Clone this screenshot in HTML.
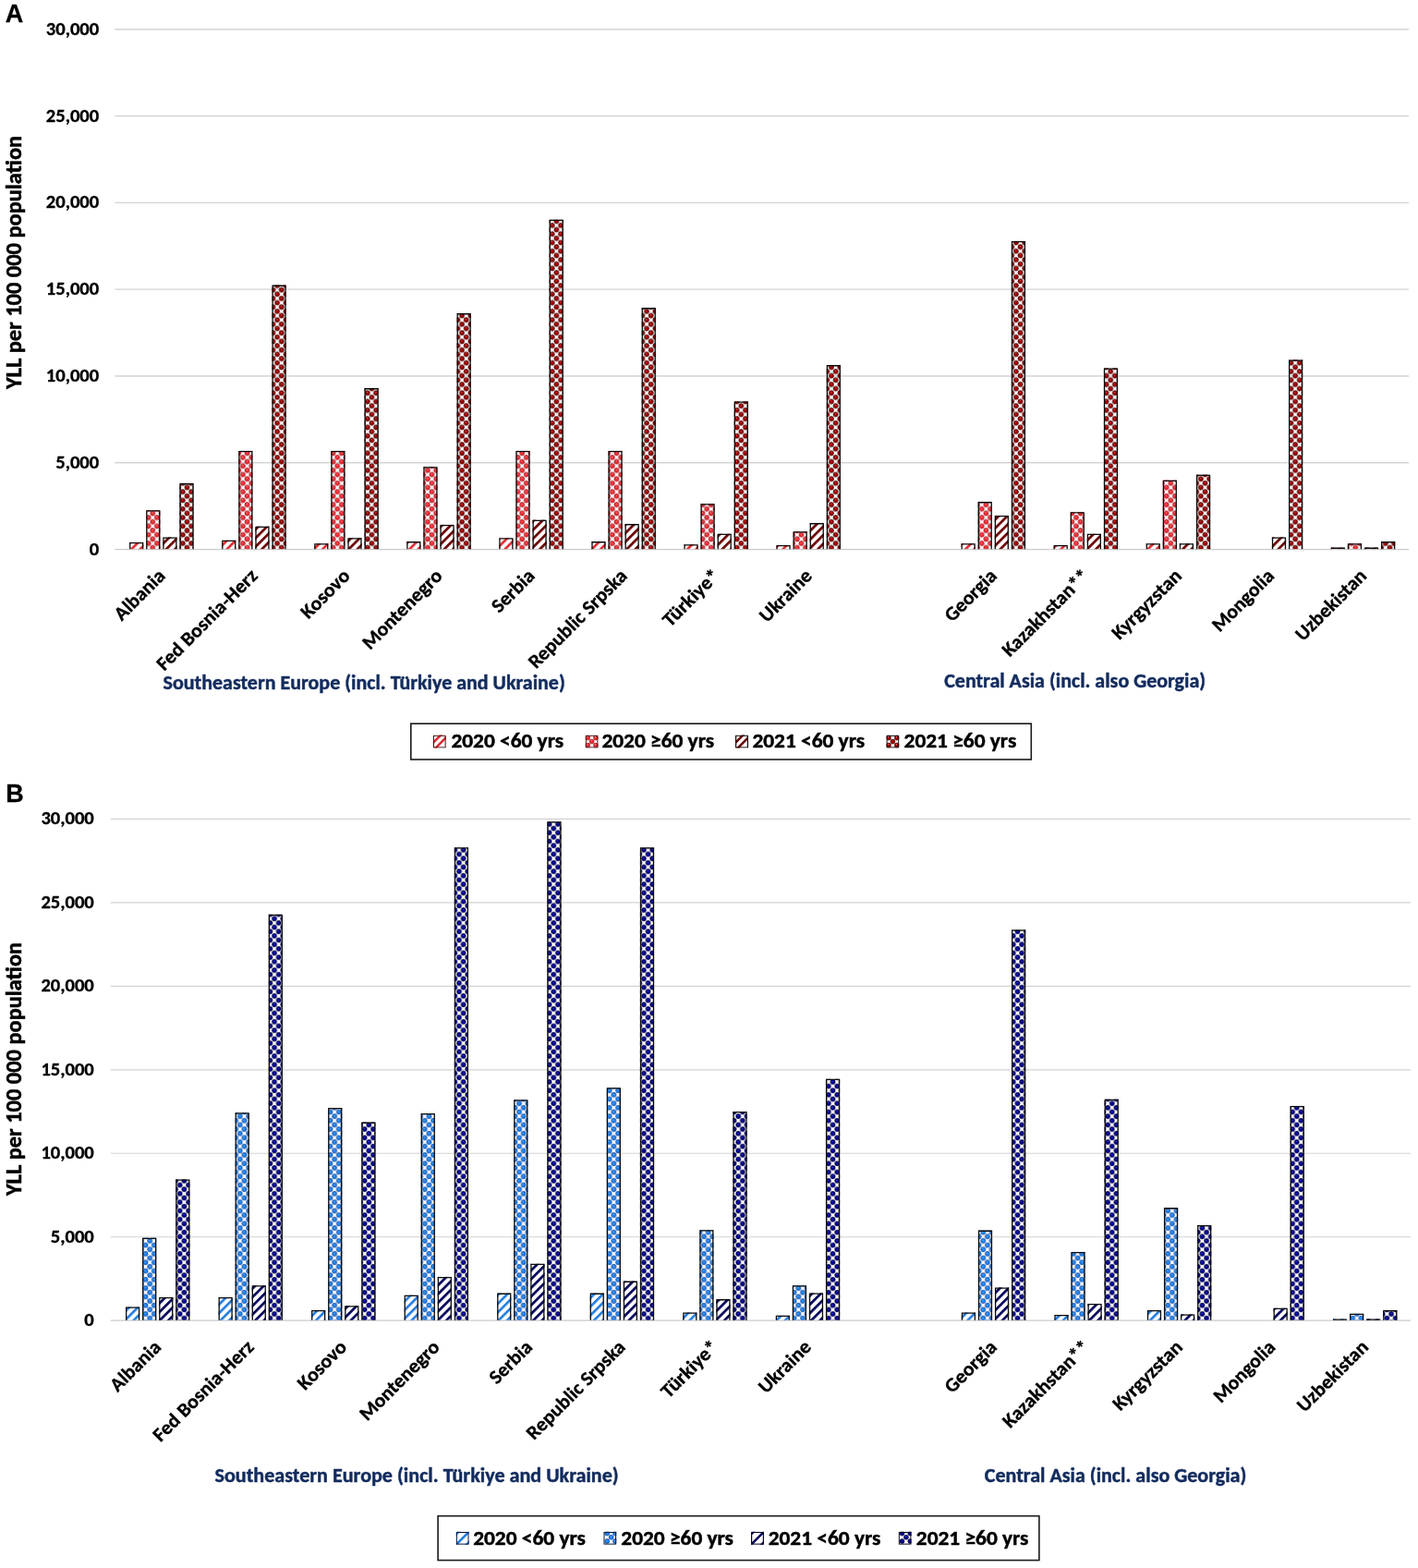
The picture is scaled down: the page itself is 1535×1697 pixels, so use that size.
<!DOCTYPE html><html><head><meta charset="utf-8"><title>YLL per 100 000 population</title><style>html,body{margin:0;padding:0;background:#fff}svg{display:block}text{font-family:Carlito, Calibri, 'Liberation Sans', sans-serif;font-weight:bold}.lt{font-family:"Liberation Sans",Arial,Helvetica,sans-serif;font-weight:bold}</style></head><body>
<svg width="1535" height="1697" viewBox="0 0 1535 1697">
<rect width="100%" height="100%" fill="#fff"/>
<defs>
<radialGradient id="gA1" cx="0.5" cy="0.55" r="0.55" fx="0.42" fy="0.28"><stop offset="0" stop-color="#ffc8c8"/><stop offset="0.28" stop-color="#ee2d35"/><stop offset="0.8" stop-color="#ee2d35"/><stop offset="1" stop-color="#b0101a"/></radialGradient>
<radialGradient id="gA3" cx="0.5" cy="0.55" r="0.55" fx="0.42" fy="0.28"><stop offset="0" stop-color="#ff9a9a"/><stop offset="0.28" stop-color="#9e0000"/><stop offset="0.8" stop-color="#9e0000"/><stop offset="1" stop-color="#4a0000"/></radialGradient>
<radialGradient id="gB1" cx="0.5" cy="0.55" r="0.55" fx="0.42" fy="0.28"><stop offset="0" stop-color="#c8e4ff"/><stop offset="0.28" stop-color="#1f80e8"/><stop offset="0.8" stop-color="#1f80e8"/><stop offset="1" stop-color="#0b4fb0"/></radialGradient>
<radialGradient id="gB3" cx="0.5" cy="0.55" r="0.55" fx="0.42" fy="0.28"><stop offset="0" stop-color="#9a9aff"/><stop offset="0.28" stop-color="#00008e"/><stop offset="0.8" stop-color="#00008e"/><stop offset="1" stop-color="#000040"/></radialGradient>
<pattern id="sA0" patternUnits="userSpaceOnUse" width="6.65" height="20" patternTransform="rotate(45) translate(0.9 0)"><rect x="0" y="0" width="2.6" height="20" fill="#e3262c"/></pattern>
<pattern id="sA1" patternUnits="userSpaceOnUse" width="9.3" height="9.3"><circle cx="2.50" cy="2.20" r="2.6" fill="url(#gA1)" stroke="#8a1018" stroke-width="0.55"/><circle cx="2.50" cy="11.50" r="2.6" fill="url(#gA1)" stroke="#8a1018" stroke-width="0.55"/><circle cx="11.80" cy="2.20" r="2.6" fill="url(#gA1)" stroke="#8a1018" stroke-width="0.55"/><circle cx="11.80" cy="11.50" r="2.6" fill="url(#gA1)" stroke="#8a1018" stroke-width="0.55"/><circle cx="-2.15" cy="-2.45" r="2.6" fill="url(#gA1)" stroke="#8a1018" stroke-width="0.55"/><circle cx="-2.15" cy="6.85" r="2.6" fill="url(#gA1)" stroke="#8a1018" stroke-width="0.55"/><circle cx="7.15" cy="-2.45" r="2.6" fill="url(#gA1)" stroke="#8a1018" stroke-width="0.55"/><circle cx="7.15" cy="6.85" r="2.6" fill="url(#gA1)" stroke="#8a1018" stroke-width="0.55"/></pattern>
<pattern id="sA2" patternUnits="userSpaceOnUse" width="6.65" height="20" patternTransform="rotate(45) translate(0.9 0)"><rect x="0" y="0" width="2.7" height="20" fill="#6a0000"/></pattern>
<pattern id="sA3" patternUnits="userSpaceOnUse" width="9.3" height="9.3"><circle cx="2.50" cy="2.20" r="2.6" fill="url(#gA3)" stroke="#2a0000" stroke-width="0.55"/><circle cx="2.50" cy="11.50" r="2.6" fill="url(#gA3)" stroke="#2a0000" stroke-width="0.55"/><circle cx="11.80" cy="2.20" r="2.6" fill="url(#gA3)" stroke="#2a0000" stroke-width="0.55"/><circle cx="11.80" cy="11.50" r="2.6" fill="url(#gA3)" stroke="#2a0000" stroke-width="0.55"/><circle cx="-2.15" cy="-2.45" r="2.6" fill="url(#gA3)" stroke="#2a0000" stroke-width="0.55"/><circle cx="-2.15" cy="6.85" r="2.6" fill="url(#gA3)" stroke="#2a0000" stroke-width="0.55"/><circle cx="7.15" cy="-2.45" r="2.6" fill="url(#gA3)" stroke="#2a0000" stroke-width="0.55"/><circle cx="7.15" cy="6.85" r="2.6" fill="url(#gA3)" stroke="#2a0000" stroke-width="0.55"/></pattern>
<pattern id="sB0" patternUnits="userSpaceOnUse" width="6.65" height="20" patternTransform="rotate(45) translate(0.9 0)"><rect x="0" y="0" width="2.6" height="20" fill="#1f7be0"/></pattern>
<pattern id="sB1" patternUnits="userSpaceOnUse" width="9.3" height="9.3"><circle cx="4.10" cy="3.80" r="2.6" fill="url(#gB1)" stroke="#0a3c90" stroke-width="0.55"/><circle cx="-0.55" cy="-0.85" r="2.6" fill="url(#gB1)" stroke="#0a3c90" stroke-width="0.55"/><circle cx="-0.55" cy="8.45" r="2.6" fill="url(#gB1)" stroke="#0a3c90" stroke-width="0.55"/><circle cx="8.75" cy="-0.85" r="2.6" fill="url(#gB1)" stroke="#0a3c90" stroke-width="0.55"/><circle cx="8.75" cy="8.45" r="2.6" fill="url(#gB1)" stroke="#0a3c90" stroke-width="0.55"/></pattern>
<pattern id="sB2" patternUnits="userSpaceOnUse" width="6.65" height="20" patternTransform="rotate(45) translate(0.9 0)"><rect x="0" y="0" width="2.7" height="20" fill="#00005a"/></pattern>
<pattern id="sB3" patternUnits="userSpaceOnUse" width="9.3" height="9.3"><circle cx="4.10" cy="3.80" r="2.6" fill="url(#gB3)" stroke="#000028" stroke-width="0.55"/><circle cx="-0.55" cy="-0.85" r="2.6" fill="url(#gB3)" stroke="#000028" stroke-width="0.55"/><circle cx="-0.55" cy="8.45" r="2.6" fill="url(#gB3)" stroke="#000028" stroke-width="0.55"/><circle cx="8.75" cy="-0.85" r="2.6" fill="url(#gB3)" stroke="#000028" stroke-width="0.55"/><circle cx="8.75" cy="8.45" r="2.6" fill="url(#gB3)" stroke="#000028" stroke-width="0.55"/></pattern>
</defs>
<line x1="124.4" y1="594.60" x2="1525.1" y2="594.60" stroke="#cbcbcb" stroke-width="1.4"/>
<line x1="124.4" y1="500.78" x2="1525.1" y2="500.78" stroke="#d3d3d3" stroke-width="1.4"/>
<line x1="124.4" y1="406.97" x2="1525.1" y2="406.97" stroke="#d3d3d3" stroke-width="1.4"/>
<line x1="124.4" y1="313.15" x2="1525.1" y2="313.15" stroke="#d3d3d3" stroke-width="1.4"/>
<line x1="124.4" y1="219.33" x2="1525.1" y2="219.33" stroke="#d3d3d3" stroke-width="1.4"/>
<line x1="124.4" y1="125.52" x2="1525.1" y2="125.52" stroke="#d3d3d3" stroke-width="1.4"/>
<line x1="124.4" y1="31.70" x2="1525.1" y2="31.70" stroke="#d3d3d3" stroke-width="1.4"/>
<rect x="140.10" y="586.90" width="15.20" height="7.25" fill="url(#sA0)"/>
<path d="M140.75 594.15V587.55H154.65V594.15" fill="none" stroke="#0a0a0a" stroke-width="1.3"/>
<rect x="158.20" y="552.20" width="15.20" height="41.95" fill="url(#sA1)"/>
<path d="M158.85 594.15V552.85H172.75V594.15" fill="none" stroke="#0a0a0a" stroke-width="1.3"/>
<rect x="176.30" y="581.40" width="15.20" height="12.75" fill="url(#sA2)"/>
<path d="M176.95 594.15V582.05H190.85V594.15" fill="none" stroke="#0a0a0a" stroke-width="1.3"/>
<rect x="194.40" y="523.10" width="15.20" height="71.05" fill="url(#sA3)"/>
<path d="M195.05 594.15V523.75H208.95V594.15" fill="none" stroke="#0a0a0a" stroke-width="1.3"/>
<rect x="240.15" y="584.80" width="15.20" height="9.35" fill="url(#sA0)"/>
<path d="M240.80 594.15V585.45H254.70V594.15" fill="none" stroke="#0a0a0a" stroke-width="1.3"/>
<rect x="258.25" y="487.90" width="15.20" height="106.25" fill="url(#sA1)"/>
<path d="M258.90 594.15V488.55H272.80V594.15" fill="none" stroke="#0a0a0a" stroke-width="1.3"/>
<rect x="276.35" y="569.70" width="15.20" height="24.45" fill="url(#sA2)"/>
<path d="M277.00 594.15V570.35H290.90V594.15" fill="none" stroke="#0a0a0a" stroke-width="1.3"/>
<rect x="294.45" y="308.60" width="15.20" height="285.55" fill="url(#sA3)"/>
<path d="M295.10 594.15V309.25H309.00V594.15" fill="none" stroke="#0a0a0a" stroke-width="1.3"/>
<rect x="340.20" y="588.20" width="15.20" height="5.95" fill="url(#sA0)"/>
<path d="M340.85 594.15V588.85H354.75V594.15" fill="none" stroke="#0a0a0a" stroke-width="1.3"/>
<rect x="358.30" y="487.90" width="15.20" height="106.25" fill="url(#sA1)"/>
<path d="M358.95 594.15V488.55H372.85V594.15" fill="none" stroke="#0a0a0a" stroke-width="1.3"/>
<rect x="376.40" y="582.20" width="15.20" height="11.95" fill="url(#sA2)"/>
<path d="M377.05 594.15V582.85H390.95V594.15" fill="none" stroke="#0a0a0a" stroke-width="1.3"/>
<rect x="394.50" y="420.10" width="15.20" height="174.05" fill="url(#sA3)"/>
<path d="M395.15 594.15V420.75H409.05V594.15" fill="none" stroke="#0a0a0a" stroke-width="1.3"/>
<rect x="440.25" y="586.10" width="15.20" height="8.05" fill="url(#sA0)"/>
<path d="M440.90 594.15V586.75H454.80V594.15" fill="none" stroke="#0a0a0a" stroke-width="1.3"/>
<rect x="458.35" y="505.30" width="15.20" height="88.85" fill="url(#sA1)"/>
<path d="M459.00 594.15V505.95H472.90V594.15" fill="none" stroke="#0a0a0a" stroke-width="1.3"/>
<rect x="476.45" y="567.90" width="15.20" height="26.25" fill="url(#sA2)"/>
<path d="M477.10 594.15V568.55H491.00V594.15" fill="none" stroke="#0a0a0a" stroke-width="1.3"/>
<rect x="494.55" y="339.10" width="15.20" height="255.05" fill="url(#sA3)"/>
<path d="M495.20 594.15V339.75H509.10V594.15" fill="none" stroke="#0a0a0a" stroke-width="1.3"/>
<rect x="540.30" y="582.20" width="15.20" height="11.95" fill="url(#sA0)"/>
<path d="M540.95 594.15V582.85H554.85V594.15" fill="none" stroke="#0a0a0a" stroke-width="1.3"/>
<rect x="558.40" y="487.90" width="15.20" height="106.25" fill="url(#sA1)"/>
<path d="M559.05 594.15V488.55H572.95V594.15" fill="none" stroke="#0a0a0a" stroke-width="1.3"/>
<rect x="576.50" y="562.70" width="15.20" height="31.45" fill="url(#sA2)"/>
<path d="M577.15 594.15V563.35H591.05V594.15" fill="none" stroke="#0a0a0a" stroke-width="1.3"/>
<rect x="594.60" y="237.70" width="15.20" height="356.45" fill="url(#sA3)"/>
<path d="M595.25 594.15V238.35H609.15V594.15" fill="none" stroke="#0a0a0a" stroke-width="1.3"/>
<rect x="640.35" y="586.10" width="15.20" height="8.05" fill="url(#sA0)"/>
<path d="M641.00 594.15V586.75H654.90V594.15" fill="none" stroke="#0a0a0a" stroke-width="1.3"/>
<rect x="658.45" y="487.90" width="15.20" height="106.25" fill="url(#sA1)"/>
<path d="M659.10 594.15V488.55H673.00V594.15" fill="none" stroke="#0a0a0a" stroke-width="1.3"/>
<rect x="676.55" y="567.10" width="15.20" height="27.05" fill="url(#sA2)"/>
<path d="M677.20 594.15V567.75H691.10V594.15" fill="none" stroke="#0a0a0a" stroke-width="1.3"/>
<rect x="694.65" y="333.10" width="15.20" height="261.05" fill="url(#sA3)"/>
<path d="M695.30 594.15V333.75H709.20V594.15" fill="none" stroke="#0a0a0a" stroke-width="1.3"/>
<rect x="740.40" y="589.20" width="15.20" height="4.95" fill="url(#sA0)"/>
<path d="M741.05 594.15V589.85H754.95V594.15" fill="none" stroke="#0a0a0a" stroke-width="1.3"/>
<rect x="758.50" y="545.20" width="15.20" height="48.95" fill="url(#sA1)"/>
<path d="M759.15 594.15V545.85H773.05V594.15" fill="none" stroke="#0a0a0a" stroke-width="1.3"/>
<rect x="776.60" y="577.80" width="15.20" height="16.35" fill="url(#sA2)"/>
<path d="M777.25 594.15V578.45H791.15V594.15" fill="none" stroke="#0a0a0a" stroke-width="1.3"/>
<rect x="794.70" y="434.50" width="15.20" height="159.65" fill="url(#sA3)"/>
<path d="M795.35 594.15V435.15H809.25V594.15" fill="none" stroke="#0a0a0a" stroke-width="1.3"/>
<rect x="840.45" y="590.00" width="15.20" height="4.15" fill="url(#sA0)"/>
<path d="M841.10 594.15V590.65H855.00V594.15" fill="none" stroke="#0a0a0a" stroke-width="1.3"/>
<rect x="858.55" y="575.20" width="15.20" height="18.95" fill="url(#sA1)"/>
<path d="M859.20 594.15V575.85H873.10V594.15" fill="none" stroke="#0a0a0a" stroke-width="1.3"/>
<rect x="876.65" y="566.10" width="15.20" height="28.05" fill="url(#sA2)"/>
<path d="M877.30 594.15V566.75H891.20V594.15" fill="none" stroke="#0a0a0a" stroke-width="1.3"/>
<rect x="894.75" y="395.10" width="15.20" height="199.05" fill="url(#sA3)"/>
<path d="M895.40 594.15V395.75H909.30V594.15" fill="none" stroke="#0a0a0a" stroke-width="1.3"/>
<rect x="1040.55" y="588.20" width="15.20" height="5.95" fill="url(#sA0)"/>
<path d="M1041.20 594.15V588.85H1055.10V594.15" fill="none" stroke="#0a0a0a" stroke-width="1.3"/>
<rect x="1058.65" y="543.10" width="15.20" height="51.05" fill="url(#sA1)"/>
<path d="M1059.30 594.15V543.75H1073.20V594.15" fill="none" stroke="#0a0a0a" stroke-width="1.3"/>
<rect x="1076.75" y="558.00" width="15.20" height="36.15" fill="url(#sA2)"/>
<path d="M1077.40 594.15V558.65H1091.30V594.15" fill="none" stroke="#0a0a0a" stroke-width="1.3"/>
<rect x="1094.85" y="260.90" width="15.20" height="333.25" fill="url(#sA3)"/>
<path d="M1095.50 594.15V261.55H1109.40V594.15" fill="none" stroke="#0a0a0a" stroke-width="1.3"/>
<rect x="1140.60" y="590.00" width="15.20" height="4.15" fill="url(#sA0)"/>
<path d="M1141.25 594.15V590.65H1155.15V594.15" fill="none" stroke="#0a0a0a" stroke-width="1.3"/>
<rect x="1158.70" y="554.30" width="15.20" height="39.85" fill="url(#sA1)"/>
<path d="M1159.35 594.15V554.95H1173.25V594.15" fill="none" stroke="#0a0a0a" stroke-width="1.3"/>
<rect x="1176.80" y="577.80" width="15.20" height="16.35" fill="url(#sA2)"/>
<path d="M1177.45 594.15V578.45H1191.35V594.15" fill="none" stroke="#0a0a0a" stroke-width="1.3"/>
<rect x="1194.90" y="398.50" width="15.20" height="195.65" fill="url(#sA3)"/>
<path d="M1195.55 594.15V399.15H1209.45V594.15" fill="none" stroke="#0a0a0a" stroke-width="1.3"/>
<rect x="1240.65" y="588.20" width="15.20" height="5.95" fill="url(#sA0)"/>
<path d="M1241.30 594.15V588.85H1255.20V594.15" fill="none" stroke="#0a0a0a" stroke-width="1.3"/>
<rect x="1258.75" y="519.70" width="15.20" height="74.45" fill="url(#sA1)"/>
<path d="M1259.40 594.15V520.35H1273.30V594.15" fill="none" stroke="#0a0a0a" stroke-width="1.3"/>
<rect x="1276.85" y="588.20" width="15.20" height="5.95" fill="url(#sA2)"/>
<path d="M1277.50 594.15V588.85H1291.40V594.15" fill="none" stroke="#0a0a0a" stroke-width="1.3"/>
<rect x="1294.95" y="513.70" width="15.20" height="80.45" fill="url(#sA3)"/>
<path d="M1295.60 594.15V514.35H1309.50V594.15" fill="none" stroke="#0a0a0a" stroke-width="1.3"/>
<rect x="1376.90" y="581.40" width="15.20" height="12.75" fill="url(#sA2)"/>
<path d="M1377.55 594.15V582.05H1391.45V594.15" fill="none" stroke="#0a0a0a" stroke-width="1.3"/>
<rect x="1395.00" y="389.40" width="15.20" height="204.75" fill="url(#sA3)"/>
<path d="M1395.65 594.15V390.05H1409.55V594.15" fill="none" stroke="#0a0a0a" stroke-width="1.3"/>
<rect x="1440.75" y="592.60" width="15.20" height="1.55" fill="url(#sA0)"/>
<path d="M1441.40 594.15V593.25H1455.30V594.15" fill="none" stroke="#0a0a0a" stroke-width="1.3"/>
<rect x="1458.85" y="588.20" width="15.20" height="5.95" fill="url(#sA1)"/>
<path d="M1459.50 594.15V588.85H1473.40V594.15" fill="none" stroke="#0a0a0a" stroke-width="1.3"/>
<rect x="1476.95" y="592.60" width="15.20" height="1.55" fill="url(#sA2)"/>
<path d="M1477.60 594.15V593.25H1491.50V594.15" fill="none" stroke="#0a0a0a" stroke-width="1.3"/>
<rect x="1495.05" y="586.10" width="15.20" height="8.05" fill="url(#sA3)"/>
<path d="M1495.70 594.15V586.75H1509.60V594.15" fill="none" stroke="#0a0a0a" stroke-width="1.3"/>
<text x="107.20" y="600.60" font-size="19.9" text-anchor="end" fill="#000" stroke="#000" stroke-width="0.3" textLength="10.42" lengthAdjust="spacingAndGlyphs">0</text>
<text x="107.20" y="506.78" font-size="19.9" text-anchor="end" fill="#000" stroke="#000" stroke-width="0.3" textLength="46.96" lengthAdjust="spacingAndGlyphs">5,000</text>
<text x="107.20" y="412.97" font-size="19.9" text-anchor="end" fill="#000" stroke="#000" stroke-width="0.3" textLength="57.38" lengthAdjust="spacingAndGlyphs">10,000</text>
<text x="107.20" y="319.15" font-size="19.9" text-anchor="end" fill="#000" stroke="#000" stroke-width="0.3" textLength="57.38" lengthAdjust="spacingAndGlyphs">15,000</text>
<text x="107.20" y="225.33" font-size="19.9" text-anchor="end" fill="#000" stroke="#000" stroke-width="0.3" textLength="57.38" lengthAdjust="spacingAndGlyphs">20,000</text>
<text x="107.20" y="131.52" font-size="19.9" text-anchor="end" fill="#000" stroke="#000" stroke-width="0.3" textLength="57.38" lengthAdjust="spacingAndGlyphs">25,000</text>
<text x="107.20" y="37.70" font-size="19.9" text-anchor="end" fill="#000" stroke="#000" stroke-width="0.3" textLength="57.38" lengthAdjust="spacingAndGlyphs">30,000</text>
<text x="179.93" y="624.50" font-size="21.2" text-anchor="end" fill="#000" stroke="#000" stroke-width="0.35" textLength="68.21" lengthAdjust="spacingAndGlyphs" transform="rotate(-45 179.93 624.50)">Albania</text>
<text x="279.97" y="624.50" font-size="21.2" text-anchor="end" fill="#000" stroke="#000" stroke-width="0.35" textLength="144.53" lengthAdjust="spacingAndGlyphs" transform="rotate(-45 279.97 624.50)">Fed Bosnia-Herz</text>
<text x="380.02" y="624.50" font-size="21.2" text-anchor="end" fill="#000" stroke="#000" stroke-width="0.35" textLength="65.49" lengthAdjust="spacingAndGlyphs" transform="rotate(-45 380.02 624.50)">Kosovo</text>
<text x="480.07" y="624.50" font-size="21.2" text-anchor="end" fill="#000" stroke="#000" stroke-width="0.35" textLength="112.44" lengthAdjust="spacingAndGlyphs" transform="rotate(-45 480.07 624.50)">Montenegro</text>
<text x="580.12" y="624.50" font-size="21.2" text-anchor="end" fill="#000" stroke="#000" stroke-width="0.35" textLength="56.32" lengthAdjust="spacingAndGlyphs" transform="rotate(-45 580.12 624.50)">Serbia</text>
<text x="680.17" y="624.50" font-size="21.2" text-anchor="end" fill="#000" stroke="#000" stroke-width="0.35" textLength="141.47" lengthAdjust="spacingAndGlyphs" transform="rotate(-45 680.17 624.50)">Republic Srpska</text>
<text x="780.22" y="624.50" font-size="21.2" text-anchor="end" fill="#000" stroke="#000" stroke-width="0.35" textLength="77.50" lengthAdjust="spacingAndGlyphs" transform="rotate(-45 780.22 624.50)">Türkiye*</text>
<text x="880.27" y="624.50" font-size="21.2" text-anchor="end" fill="#000" stroke="#000" stroke-width="0.35" textLength="70.58" lengthAdjust="spacingAndGlyphs" transform="rotate(-45 880.27 624.50)">Ukraine</text>
<text x="1080.38" y="624.50" font-size="21.2" text-anchor="end" fill="#000" stroke="#000" stroke-width="0.35" textLength="70.14" lengthAdjust="spacingAndGlyphs" transform="rotate(-45 1080.38 624.50)">Georgia</text>
<text x="1180.42" y="624.50" font-size="21.2" text-anchor="end" fill="#000" stroke="#000" stroke-width="0.35" textLength="123.56" lengthAdjust="spacingAndGlyphs" transform="rotate(-45 1180.42 624.50)">Kazakhstan**</text>
<text x="1280.47" y="624.50" font-size="21.2" text-anchor="end" fill="#000" stroke="#000" stroke-width="0.35" textLength="97.14" lengthAdjust="spacingAndGlyphs" transform="rotate(-45 1280.47 624.50)">Kyrgyzstan</text>
<text x="1380.53" y="624.50" font-size="21.2" text-anchor="end" fill="#000" stroke="#000" stroke-width="0.35" textLength="85.21" lengthAdjust="spacingAndGlyphs" transform="rotate(-45 1380.53 624.50)">Mongolia</text>
<text x="1480.58" y="624.50" font-size="21.2" text-anchor="end" fill="#000" stroke="#000" stroke-width="0.35" textLength="99.18" lengthAdjust="spacingAndGlyphs" transform="rotate(-45 1480.58 624.50)">Uzbekistan</text>
<line x1="119.7" y1="1429.20" x2="1527.2" y2="1429.20" stroke="#cbcbcb" stroke-width="1.2"/>
<line x1="119.7" y1="1338.73" x2="1527.2" y2="1338.73" stroke="#d3d3d3" stroke-width="1.2"/>
<line x1="119.7" y1="1248.27" x2="1527.2" y2="1248.27" stroke="#d3d3d3" stroke-width="1.2"/>
<line x1="119.7" y1="1157.80" x2="1527.2" y2="1157.80" stroke="#d3d3d3" stroke-width="1.2"/>
<line x1="119.7" y1="1067.33" x2="1527.2" y2="1067.33" stroke="#d3d3d3" stroke-width="1.2"/>
<line x1="119.7" y1="976.87" x2="1527.2" y2="976.87" stroke="#d3d3d3" stroke-width="1.2"/>
<line x1="119.7" y1="886.40" x2="1527.2" y2="886.40" stroke="#d3d3d3" stroke-width="1.2"/>
<rect x="136.00" y="1414.50" width="15.20" height="14.25" fill="url(#sB0)"/>
<path d="M136.65 1428.75V1415.15H150.55V1428.75" fill="none" stroke="#0a0a0a" stroke-width="1.3"/>
<rect x="154.07" y="1339.70" width="15.20" height="89.05" fill="url(#sB1)"/>
<path d="M154.72 1428.75V1340.35H168.62V1428.75" fill="none" stroke="#0a0a0a" stroke-width="1.3"/>
<rect x="172.14" y="1404.00" width="15.20" height="24.75" fill="url(#sB2)"/>
<path d="M172.79 1428.75V1404.65H186.69V1428.75" fill="none" stroke="#0a0a0a" stroke-width="1.3"/>
<rect x="190.21" y="1276.40" width="15.20" height="152.35" fill="url(#sB3)"/>
<path d="M190.86 1428.75V1277.05H204.76V1428.75" fill="none" stroke="#0a0a0a" stroke-width="1.3"/>
<rect x="236.54" y="1404.00" width="15.20" height="24.75" fill="url(#sB0)"/>
<path d="M237.19 1428.75V1404.65H251.09V1428.75" fill="none" stroke="#0a0a0a" stroke-width="1.3"/>
<rect x="254.61" y="1204.20" width="15.20" height="224.55" fill="url(#sB1)"/>
<path d="M255.26 1428.75V1204.85H269.16V1428.75" fill="none" stroke="#0a0a0a" stroke-width="1.3"/>
<rect x="272.68" y="1391.30" width="15.20" height="37.45" fill="url(#sB2)"/>
<path d="M273.33 1428.75V1391.95H287.23V1428.75" fill="none" stroke="#0a0a0a" stroke-width="1.3"/>
<rect x="290.75" y="989.70" width="15.20" height="439.05" fill="url(#sB3)"/>
<path d="M291.40 1428.75V990.35H305.30V1428.75" fill="none" stroke="#0a0a0a" stroke-width="1.3"/>
<rect x="337.07" y="1417.90" width="15.20" height="10.85" fill="url(#sB0)"/>
<path d="M337.72 1428.75V1418.55H351.62V1428.75" fill="none" stroke="#0a0a0a" stroke-width="1.3"/>
<rect x="355.14" y="1199.00" width="15.20" height="229.75" fill="url(#sB1)"/>
<path d="M355.79 1428.75V1199.65H369.69V1428.75" fill="none" stroke="#0a0a0a" stroke-width="1.3"/>
<rect x="373.21" y="1413.20" width="15.20" height="15.55" fill="url(#sB2)"/>
<path d="M373.86 1428.75V1413.85H387.76V1428.75" fill="none" stroke="#0a0a0a" stroke-width="1.3"/>
<rect x="391.28" y="1214.60" width="15.20" height="214.15" fill="url(#sB3)"/>
<path d="M391.93 1428.75V1215.25H405.83V1428.75" fill="none" stroke="#0a0a0a" stroke-width="1.3"/>
<rect x="437.61" y="1401.70" width="15.20" height="27.05" fill="url(#sB0)"/>
<path d="M438.26 1428.75V1402.35H452.16V1428.75" fill="none" stroke="#0a0a0a" stroke-width="1.3"/>
<rect x="455.68" y="1205.00" width="15.20" height="223.75" fill="url(#sB1)"/>
<path d="M456.33 1428.75V1205.65H470.23V1428.75" fill="none" stroke="#0a0a0a" stroke-width="1.3"/>
<rect x="473.75" y="1381.90" width="15.20" height="46.85" fill="url(#sB2)"/>
<path d="M474.40 1428.75V1382.55H488.30V1428.75" fill="none" stroke="#0a0a0a" stroke-width="1.3"/>
<rect x="491.82" y="917.30" width="15.20" height="511.45" fill="url(#sB3)"/>
<path d="M492.47 1428.75V917.95H506.37V1428.75" fill="none" stroke="#0a0a0a" stroke-width="1.3"/>
<rect x="538.14" y="1399.60" width="15.20" height="29.15" fill="url(#sB0)"/>
<path d="M538.79 1428.75V1400.25H552.69V1428.75" fill="none" stroke="#0a0a0a" stroke-width="1.3"/>
<rect x="556.21" y="1190.30" width="15.20" height="238.45" fill="url(#sB1)"/>
<path d="M556.86 1428.75V1190.95H570.76V1428.75" fill="none" stroke="#0a0a0a" stroke-width="1.3"/>
<rect x="574.28" y="1367.80" width="15.20" height="60.95" fill="url(#sB2)"/>
<path d="M574.93 1428.75V1368.45H588.83V1428.75" fill="none" stroke="#0a0a0a" stroke-width="1.3"/>
<rect x="592.35" y="889.20" width="15.20" height="539.55" fill="url(#sB3)"/>
<path d="M593.00 1428.75V889.85H606.90V1428.75" fill="none" stroke="#0a0a0a" stroke-width="1.3"/>
<rect x="638.68" y="1399.60" width="15.20" height="29.15" fill="url(#sB0)"/>
<path d="M639.33 1428.75V1400.25H653.23V1428.75" fill="none" stroke="#0a0a0a" stroke-width="1.3"/>
<rect x="656.75" y="1177.20" width="15.20" height="251.55" fill="url(#sB1)"/>
<path d="M657.40 1428.75V1177.85H671.30V1428.75" fill="none" stroke="#0a0a0a" stroke-width="1.3"/>
<rect x="674.82" y="1386.60" width="15.20" height="42.15" fill="url(#sB2)"/>
<path d="M675.47 1428.75V1387.25H689.37V1428.75" fill="none" stroke="#0a0a0a" stroke-width="1.3"/>
<rect x="692.89" y="917.30" width="15.20" height="511.45" fill="url(#sB3)"/>
<path d="M693.54 1428.75V917.95H707.44V1428.75" fill="none" stroke="#0a0a0a" stroke-width="1.3"/>
<rect x="739.21" y="1420.50" width="15.20" height="8.25" fill="url(#sB0)"/>
<path d="M739.86 1428.75V1421.15H753.76V1428.75" fill="none" stroke="#0a0a0a" stroke-width="1.3"/>
<rect x="757.28" y="1331.30" width="15.20" height="97.45" fill="url(#sB1)"/>
<path d="M757.93 1428.75V1331.95H771.83V1428.75" fill="none" stroke="#0a0a0a" stroke-width="1.3"/>
<rect x="775.35" y="1406.10" width="15.20" height="22.65" fill="url(#sB2)"/>
<path d="M776.00 1428.75V1406.75H789.90V1428.75" fill="none" stroke="#0a0a0a" stroke-width="1.3"/>
<rect x="793.42" y="1203.00" width="15.20" height="225.75" fill="url(#sB3)"/>
<path d="M794.07 1428.75V1203.65H807.97V1428.75" fill="none" stroke="#0a0a0a" stroke-width="1.3"/>
<rect x="839.75" y="1423.80" width="15.20" height="4.95" fill="url(#sB0)"/>
<path d="M840.40 1428.75V1424.45H854.30V1428.75" fill="none" stroke="#0a0a0a" stroke-width="1.3"/>
<rect x="857.82" y="1391.20" width="15.20" height="37.55" fill="url(#sB1)"/>
<path d="M858.47 1428.75V1391.85H872.37V1428.75" fill="none" stroke="#0a0a0a" stroke-width="1.3"/>
<rect x="875.89" y="1399.50" width="15.20" height="29.25" fill="url(#sB2)"/>
<path d="M876.54 1428.75V1400.15H890.44V1428.75" fill="none" stroke="#0a0a0a" stroke-width="1.3"/>
<rect x="893.96" y="1167.80" width="15.20" height="260.95" fill="url(#sB3)"/>
<path d="M894.61 1428.75V1168.45H908.51V1428.75" fill="none" stroke="#0a0a0a" stroke-width="1.3"/>
<rect x="1040.82" y="1420.50" width="15.20" height="8.25" fill="url(#sB0)"/>
<path d="M1041.47 1428.75V1421.15H1055.37V1428.75" fill="none" stroke="#0a0a0a" stroke-width="1.3"/>
<rect x="1058.89" y="1331.60" width="15.20" height="97.15" fill="url(#sB1)"/>
<path d="M1059.54 1428.75V1332.25H1073.44V1428.75" fill="none" stroke="#0a0a0a" stroke-width="1.3"/>
<rect x="1076.96" y="1393.40" width="15.20" height="35.35" fill="url(#sB2)"/>
<path d="M1077.61 1428.75V1394.05H1091.51V1428.75" fill="none" stroke="#0a0a0a" stroke-width="1.3"/>
<rect x="1095.03" y="1006.30" width="15.20" height="422.45" fill="url(#sB3)"/>
<path d="M1095.68 1428.75V1006.95H1109.58V1428.75" fill="none" stroke="#0a0a0a" stroke-width="1.3"/>
<rect x="1141.36" y="1423.00" width="15.20" height="5.75" fill="url(#sB0)"/>
<path d="M1142.01 1428.75V1423.65H1155.91V1428.75" fill="none" stroke="#0a0a0a" stroke-width="1.3"/>
<rect x="1159.43" y="1354.90" width="15.20" height="73.85" fill="url(#sB1)"/>
<path d="M1160.08 1428.75V1355.55H1173.98V1428.75" fill="none" stroke="#0a0a0a" stroke-width="1.3"/>
<rect x="1177.50" y="1411.00" width="15.20" height="17.75" fill="url(#sB2)"/>
<path d="M1178.15 1428.75V1411.65H1192.05V1428.75" fill="none" stroke="#0a0a0a" stroke-width="1.3"/>
<rect x="1195.57" y="1189.70" width="15.20" height="239.05" fill="url(#sB3)"/>
<path d="M1196.22 1428.75V1190.35H1210.12V1428.75" fill="none" stroke="#0a0a0a" stroke-width="1.3"/>
<rect x="1241.89" y="1418.00" width="15.20" height="10.75" fill="url(#sB0)"/>
<path d="M1242.54 1428.75V1418.65H1256.44V1428.75" fill="none" stroke="#0a0a0a" stroke-width="1.3"/>
<rect x="1259.96" y="1307.10" width="15.20" height="121.65" fill="url(#sB1)"/>
<path d="M1260.61 1428.75V1307.75H1274.51V1428.75" fill="none" stroke="#0a0a0a" stroke-width="1.3"/>
<rect x="1278.03" y="1422.50" width="15.20" height="6.25" fill="url(#sB2)"/>
<path d="M1278.68 1428.75V1423.15H1292.58V1428.75" fill="none" stroke="#0a0a0a" stroke-width="1.3"/>
<rect x="1296.10" y="1325.90" width="15.20" height="102.85" fill="url(#sB3)"/>
<path d="M1296.75 1428.75V1326.55H1310.65V1428.75" fill="none" stroke="#0a0a0a" stroke-width="1.3"/>
<rect x="1378.57" y="1415.80" width="15.20" height="12.95" fill="url(#sB2)"/>
<path d="M1379.22 1428.75V1416.45H1393.12V1428.75" fill="none" stroke="#0a0a0a" stroke-width="1.3"/>
<rect x="1396.64" y="1196.90" width="15.20" height="231.85" fill="url(#sB3)"/>
<path d="M1397.29 1428.75V1197.55H1411.19V1428.75" fill="none" stroke="#0a0a0a" stroke-width="1.3"/>
<rect x="1442.96" y="1427.50" width="15.20" height="1.25" fill="url(#sB0)"/>
<path d="M1443.61 1428.75V1428.15H1457.51V1428.75" fill="none" stroke="#0a0a0a" stroke-width="1.3"/>
<rect x="1461.03" y="1421.80" width="15.20" height="6.95" fill="url(#sB1)"/>
<path d="M1461.68 1428.75V1422.45H1475.58V1428.75" fill="none" stroke="#0a0a0a" stroke-width="1.3"/>
<rect x="1479.10" y="1427.50" width="15.20" height="1.25" fill="url(#sB2)"/>
<path d="M1479.75 1428.75V1428.15H1493.65V1428.75" fill="none" stroke="#0a0a0a" stroke-width="1.3"/>
<rect x="1497.17" y="1417.90" width="15.20" height="10.85" fill="url(#sB3)"/>
<path d="M1497.82 1428.75V1418.55H1511.72V1428.75" fill="none" stroke="#0a0a0a" stroke-width="1.3"/>
<text x="101.80" y="1435.20" font-size="19.9" text-anchor="end" fill="#000" stroke="#000" stroke-width="0.3" textLength="10.42" lengthAdjust="spacingAndGlyphs">0</text>
<text x="101.80" y="1344.73" font-size="19.9" text-anchor="end" fill="#000" stroke="#000" stroke-width="0.3" textLength="46.96" lengthAdjust="spacingAndGlyphs">5,000</text>
<text x="101.80" y="1254.27" font-size="19.9" text-anchor="end" fill="#000" stroke="#000" stroke-width="0.3" textLength="57.38" lengthAdjust="spacingAndGlyphs">10,000</text>
<text x="101.80" y="1163.80" font-size="19.9" text-anchor="end" fill="#000" stroke="#000" stroke-width="0.3" textLength="57.38" lengthAdjust="spacingAndGlyphs">15,000</text>
<text x="101.80" y="1073.33" font-size="19.9" text-anchor="end" fill="#000" stroke="#000" stroke-width="0.3" textLength="57.38" lengthAdjust="spacingAndGlyphs">20,000</text>
<text x="101.80" y="982.87" font-size="19.9" text-anchor="end" fill="#000" stroke="#000" stroke-width="0.3" textLength="57.38" lengthAdjust="spacingAndGlyphs">25,000</text>
<text x="101.80" y="892.40" font-size="19.9" text-anchor="end" fill="#000" stroke="#000" stroke-width="0.3" textLength="57.38" lengthAdjust="spacingAndGlyphs">30,000</text>
<text x="175.47" y="1459.10" font-size="21.2" text-anchor="end" fill="#000" stroke="#000" stroke-width="0.35" textLength="68.21" lengthAdjust="spacingAndGlyphs" transform="rotate(-45 175.47 1459.10)">Albania</text>
<text x="276.00" y="1459.10" font-size="21.2" text-anchor="end" fill="#000" stroke="#000" stroke-width="0.35" textLength="144.53" lengthAdjust="spacingAndGlyphs" transform="rotate(-45 276.00 1459.10)">Fed Bosnia-Herz</text>
<text x="376.54" y="1459.10" font-size="21.2" text-anchor="end" fill="#000" stroke="#000" stroke-width="0.35" textLength="65.49" lengthAdjust="spacingAndGlyphs" transform="rotate(-45 376.54 1459.10)">Kosovo</text>
<text x="477.08" y="1459.10" font-size="21.2" text-anchor="end" fill="#000" stroke="#000" stroke-width="0.35" textLength="112.44" lengthAdjust="spacingAndGlyphs" transform="rotate(-45 477.08 1459.10)">Montenegro</text>
<text x="577.61" y="1459.10" font-size="21.2" text-anchor="end" fill="#000" stroke="#000" stroke-width="0.35" textLength="56.32" lengthAdjust="spacingAndGlyphs" transform="rotate(-45 577.61 1459.10)">Serbia</text>
<text x="678.15" y="1459.10" font-size="21.2" text-anchor="end" fill="#000" stroke="#000" stroke-width="0.35" textLength="141.47" lengthAdjust="spacingAndGlyphs" transform="rotate(-45 678.15 1459.10)">Republic Srpska</text>
<text x="778.68" y="1459.10" font-size="21.2" text-anchor="end" fill="#000" stroke="#000" stroke-width="0.35" textLength="77.50" lengthAdjust="spacingAndGlyphs" transform="rotate(-45 778.68 1459.10)">Türkiye*</text>
<text x="879.22" y="1459.10" font-size="21.2" text-anchor="end" fill="#000" stroke="#000" stroke-width="0.35" textLength="70.58" lengthAdjust="spacingAndGlyphs" transform="rotate(-45 879.22 1459.10)">Ukraine</text>
<text x="1080.29" y="1459.10" font-size="21.2" text-anchor="end" fill="#000" stroke="#000" stroke-width="0.35" textLength="70.14" lengthAdjust="spacingAndGlyphs" transform="rotate(-45 1080.29 1459.10)">Georgia</text>
<text x="1180.83" y="1459.10" font-size="21.2" text-anchor="end" fill="#000" stroke="#000" stroke-width="0.35" textLength="123.56" lengthAdjust="spacingAndGlyphs" transform="rotate(-45 1180.83 1459.10)">Kazakhstan**</text>
<text x="1281.36" y="1459.10" font-size="21.2" text-anchor="end" fill="#000" stroke="#000" stroke-width="0.35" textLength="97.14" lengthAdjust="spacingAndGlyphs" transform="rotate(-45 1281.36 1459.10)">Kyrgyzstan</text>
<text x="1381.90" y="1459.10" font-size="21.2" text-anchor="end" fill="#000" stroke="#000" stroke-width="0.35" textLength="85.21" lengthAdjust="spacingAndGlyphs" transform="rotate(-45 1381.90 1459.10)">Mongolia</text>
<text x="1482.43" y="1459.10" font-size="21.2" text-anchor="end" fill="#000" stroke="#000" stroke-width="0.35" textLength="99.18" lengthAdjust="spacingAndGlyphs" transform="rotate(-45 1482.43 1459.10)">Uzbekistan</text>
<text class="lt" x="5.8" y="24.2" font-size="27" stroke="#000" stroke-width="0.3">A</text>
<text class="lt" x="6.3" y="868" font-size="27" stroke="#000" stroke-width="0.3">B</text>
<text x="22.70" y="284.00" font-size="23.6" text-anchor="middle" fill="#000" stroke="#000" stroke-width="0.5" textLength="274.16" lengthAdjust="spacingAndGlyphs" transform="rotate(-90 22.70 284.00)">YLL per 100 000 population</text>
<text x="22.70" y="1157.00" font-size="23.6" text-anchor="middle" fill="#000" stroke="#000" stroke-width="0.5" textLength="274.16" lengthAdjust="spacingAndGlyphs" transform="rotate(-90 22.70 1157.00)">YLL per 100 000 population</text>
<text x="176.60" y="745.60" font-size="21.4" fill="#132c5e" stroke="#132c5e" stroke-width="0.45" textLength="435.19" lengthAdjust="spacingAndGlyphs">Southeastern Europe (incl. Türkiye and Ukraine)</text>
<text x="1022.20" y="744.20" font-size="21.4" fill="#132c5e" stroke="#132c5e" stroke-width="0.45" textLength="282.91" lengthAdjust="spacingAndGlyphs">Central Asia (incl. also Georgia)</text>
<text x="232.50" y="1604.20" font-size="21.4" fill="#132c5e" stroke="#132c5e" stroke-width="0.45" textLength="437.18" lengthAdjust="spacingAndGlyphs">Southeastern Europe (incl. Türkiye and Ukraine)</text>
<text x="1065.80" y="1604.40" font-size="21.4" fill="#132c5e" stroke="#132c5e" stroke-width="0.45" textLength="283.56" lengthAdjust="spacingAndGlyphs">Central Asia (incl. also Georgia)</text>
<rect x="444.8" y="783.2" width="671.5" height="38.799999999999955" fill="#fff" stroke="#1a1a1a" stroke-width="1.6"/><svg x="468.80" y="795.60" width="14.0" height="14.0" viewBox="0 0 14.0 14.0" overflow="hidden"><rect width="14.0" height="14.0" fill="#fff"/><line x1="11.30" y1="-3" x2="-3" y2="11.30" stroke="#e3262c" stroke-width="2.5"/><line x1="19.70" y1="-3" x2="-3" y2="19.70" stroke="#e3262c" stroke-width="2.5"/><rect x="0.6" y="0.6" width="12.80" height="12.80" fill="none" stroke="#4a1414" stroke-width="1.2"/></svg><text x="488.40" y="809.40" font-size="22.4" fill="#000" stroke="#000" stroke-width="0.45" textLength="121.61" lengthAdjust="spacingAndGlyphs">2020 &lt;60 yrs</text><svg x="633.60" y="795.60" width="14.0" height="14.0" viewBox="0 0 14.0 14.0" overflow="hidden"><rect width="14.0" height="14.0" fill="#fff"/><circle cx="7" cy="7" r="2.5" fill="url(#gA1)" stroke="#8a1018" stroke-width="0.55"/><circle cx="2.6" cy="3.0" r="2.5" fill="url(#gA1)" stroke="#8a1018" stroke-width="0.55"/><circle cx="11.4" cy="3.0" r="2.5" fill="url(#gA1)" stroke="#8a1018" stroke-width="0.55"/><circle cx="2.6" cy="11.0" r="2.5" fill="url(#gA1)" stroke="#8a1018" stroke-width="0.55"/><circle cx="11.4" cy="11.0" r="2.5" fill="url(#gA1)" stroke="#8a1018" stroke-width="0.55"/><rect x="0.6" y="0.6" width="12.80" height="12.80" fill="none" stroke="#4a1414" stroke-width="1.2"/></svg><text x="651.40" y="809.40" font-size="22.4" fill="#000" stroke="#000" stroke-width="0.45" textLength="121.61" lengthAdjust="spacingAndGlyphs">2020 ≥60 yrs</text><svg x="796.00" y="795.60" width="14.0" height="14.0" viewBox="0 0 14.0 14.0" overflow="hidden"><rect width="14.0" height="14.0" fill="#fff"/><line x1="11.30" y1="-3" x2="-3" y2="11.30" stroke="#6a0000" stroke-width="2.5"/><line x1="19.70" y1="-3" x2="-3" y2="19.70" stroke="#6a0000" stroke-width="2.5"/><rect x="0.6" y="0.6" width="12.80" height="12.80" fill="none" stroke="#140606" stroke-width="1.2"/></svg><text x="814.40" y="809.40" font-size="22.4" fill="#000" stroke="#000" stroke-width="0.45" textLength="121.61" lengthAdjust="spacingAndGlyphs">2021 &lt;60 yrs</text><svg x="959.40" y="795.60" width="14.0" height="14.0" viewBox="0 0 14.0 14.0" overflow="hidden"><rect width="14.0" height="14.0" fill="#fff"/><circle cx="7" cy="7" r="2.5" fill="url(#gA3)" stroke="#2a0000" stroke-width="0.55"/><circle cx="2.6" cy="3.0" r="2.5" fill="url(#gA3)" stroke="#2a0000" stroke-width="0.55"/><circle cx="11.4" cy="3.0" r="2.5" fill="url(#gA3)" stroke="#2a0000" stroke-width="0.55"/><circle cx="2.6" cy="11.0" r="2.5" fill="url(#gA3)" stroke="#2a0000" stroke-width="0.55"/><circle cx="11.4" cy="11.0" r="2.5" fill="url(#gA3)" stroke="#2a0000" stroke-width="0.55"/><rect x="0.6" y="0.6" width="12.80" height="12.80" fill="none" stroke="#140606" stroke-width="1.2"/></svg><text x="978.60" y="809.40" font-size="22.4" fill="#000" stroke="#000" stroke-width="0.45" textLength="121.61" lengthAdjust="spacingAndGlyphs">2021 ≥60 yrs</text>
<rect x="474.1" y="1640.7" width="650.8000000000001" height="47.899999999999864" fill="#fff" stroke="#1a1a1a" stroke-width="1.6"/><svg x="493.70" y="1657.80" width="14.0" height="14.0" viewBox="0 0 14.0 14.0" overflow="hidden"><rect width="14.0" height="14.0" fill="#fff"/><line x1="5.80" y1="-3" x2="-3" y2="5.80" stroke="#1f7be0" stroke-width="2.5"/><line x1="17.00" y1="-3" x2="-3" y2="17.00" stroke="#1f7be0" stroke-width="2.5"/><line x1="28.20" y1="-3" x2="-3" y2="28.20" stroke="#1f7be0" stroke-width="2.5"/><rect x="0.6" y="0.6" width="12.80" height="12.80" fill="none" stroke="#08183a" stroke-width="1.2"/></svg><text x="512.20" y="1671.80" font-size="22.4" fill="#000" stroke="#000" stroke-width="0.45" textLength="121.61" lengthAdjust="spacingAndGlyphs">2020 &lt;60 yrs</text><svg x="653.30" y="1657.80" width="14.0" height="14.0" viewBox="0 0 14.0 14.0" overflow="hidden"><rect width="14.0" height="14.0" fill="#fff"/><circle cx="8.3" cy="6.0" r="2.5" fill="url(#gB1)" stroke="#0a3c90" stroke-width="0.55"/><circle cx="3.9" cy="1.8" r="2.5" fill="url(#gB1)" stroke="#0a3c90" stroke-width="0.55"/><circle cx="3.9" cy="10.2" r="2.5" fill="url(#gB1)" stroke="#0a3c90" stroke-width="0.55"/><circle cx="12.7" cy="1.8" r="2.5" fill="url(#gB1)" stroke="#0a3c90" stroke-width="0.55"/><circle cx="12.7" cy="10.2" r="2.5" fill="url(#gB1)" stroke="#0a3c90" stroke-width="0.55"/><rect x="0.6" y="0.6" width="12.80" height="12.80" fill="none" stroke="#08183a" stroke-width="1.2"/></svg><text x="672.30" y="1671.80" font-size="22.4" fill="#000" stroke="#000" stroke-width="0.45" textLength="121.61" lengthAdjust="spacingAndGlyphs">2020 ≥60 yrs</text><svg x="813.00" y="1657.80" width="14.0" height="14.0" viewBox="0 0 14.0 14.0" overflow="hidden"><rect width="14.0" height="14.0" fill="#fff"/><line x1="5.80" y1="-3" x2="-3" y2="5.80" stroke="#00005a" stroke-width="2.5"/><line x1="17.00" y1="-3" x2="-3" y2="17.00" stroke="#00005a" stroke-width="2.5"/><line x1="28.20" y1="-3" x2="-3" y2="28.20" stroke="#00005a" stroke-width="2.5"/><rect x="0.6" y="0.6" width="12.80" height="12.80" fill="none" stroke="#06061a" stroke-width="1.2"/></svg><text x="831.70" y="1671.80" font-size="22.4" fill="#000" stroke="#000" stroke-width="0.45" textLength="121.61" lengthAdjust="spacingAndGlyphs">2021 &lt;60 yrs</text><svg x="972.60" y="1657.80" width="14.0" height="14.0" viewBox="0 0 14.0 14.0" overflow="hidden"><rect width="14.0" height="14.0" fill="#fff"/><circle cx="8.3" cy="6.0" r="2.5" fill="url(#gB3)" stroke="#000028" stroke-width="0.55"/><circle cx="3.9" cy="1.8" r="2.5" fill="url(#gB3)" stroke="#000028" stroke-width="0.55"/><circle cx="3.9" cy="10.2" r="2.5" fill="url(#gB3)" stroke="#000028" stroke-width="0.55"/><circle cx="12.7" cy="1.8" r="2.5" fill="url(#gB3)" stroke="#000028" stroke-width="0.55"/><circle cx="12.7" cy="10.2" r="2.5" fill="url(#gB3)" stroke="#000028" stroke-width="0.55"/><rect x="0.6" y="0.6" width="12.80" height="12.80" fill="none" stroke="#06061a" stroke-width="1.2"/></svg><text x="991.80" y="1671.80" font-size="22.4" fill="#000" stroke="#000" stroke-width="0.45" textLength="121.61" lengthAdjust="spacingAndGlyphs">2021 ≥60 yrs</text>
</svg></body></html>
